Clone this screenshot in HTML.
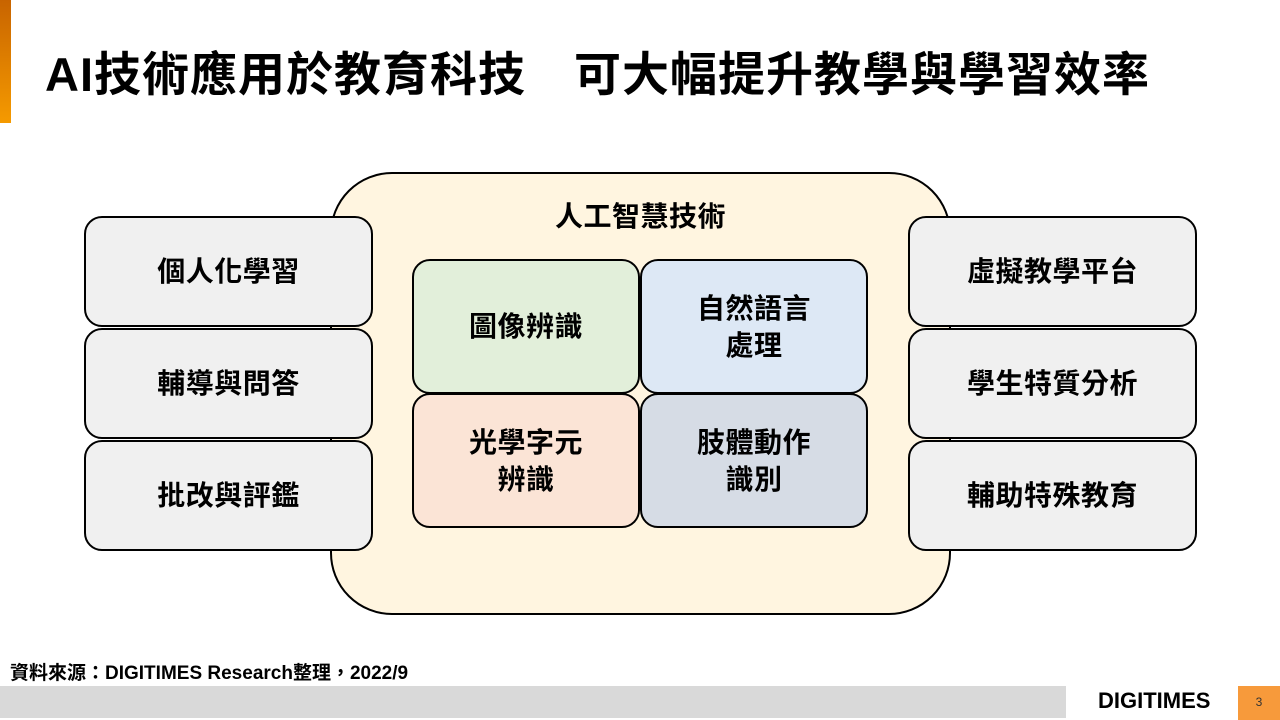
<!DOCTYPE html>
<html><head><meta charset="utf-8"><style>
body{margin:0;width:1280px;height:720px;position:relative;background:#fff;font-family:"Liberation Sans","Noto Sans CJK TC",sans-serif;overflow:hidden}
.a{position:absolute;box-sizing:border-box}
.b{border:2.5px solid #000;display:flex;align-items:center;justify-content:center;text-align:center;font-weight:bold;font-size:28px;letter-spacing:0.5px;line-height:37px;color:#000}
.s{background:#f0f0f0;border-radius:18px;width:289px;height:111px}
.i{border-radius:18px;width:228px;height:135px}
</style></head><body>
<div class="a" style="left:0;top:0;width:11px;height:123px;background:linear-gradient(#c86400,#f59a00)"></div>
<div class="a" style="left:45px;top:36px;font-size:47px;font-weight:bold;white-space:nowrap;letter-spacing:1px">AI技術應用於教育科技　可大幅提升教學與學習效率</div>
<div class="a" style="left:330px;top:172px;width:621px;height:443px;background:#fff5e0;border:2.5px solid #000;border-radius:62px"></div>
<div class="a" style="left:330px;top:195px;width:621px;text-align:center;font-size:28px;letter-spacing:0.5px;font-weight:bold">人工智慧技術</div>
<div class="a b s" style="left:84px;top:216px">個人化學習</div>
<div class="a b s" style="left:84px;top:328px">輔導與問答</div>
<div class="a b s" style="left:84px;top:440px">批改與評鑑</div>
<div class="a b s" style="left:908px;top:216px">虛擬教學平台</div>
<div class="a b s" style="left:908px;top:328px">學生特質分析</div>
<div class="a b s" style="left:908px;top:440px">輔助特殊教育</div>
<div class="a b i" style="left:412px;top:259px;background:#e2efda">圖像辨識</div>
<div class="a b i" style="left:640px;top:259px;background:#dde8f5">自然語言<br>處理</div>
<div class="a b i" style="left:412px;top:393px;background:#fbe4d6">光學字元<br>辨識</div>
<div class="a b i" style="left:640px;top:393px;background:#d6dce5">肢體動作<br>識別</div>
<div class="a" style="left:10px;top:658px;font-size:19px;font-weight:bold;white-space:nowrap">資料來源：DIGITIMES Research整理，2022/9</div>
<div class="a" style="left:0;top:686px;width:1066px;height:32px;background:#d9d9d9"></div>
<div class="a" style="left:1098px;top:688px;font-size:22px;font-weight:900">DIGITIMES</div>
<div class="a" style="left:1238px;top:686px;width:42px;height:34px;background:#f79a3b;color:#333;font-size:12px;text-align:center;line-height:32px">3</div>
</body></html>
